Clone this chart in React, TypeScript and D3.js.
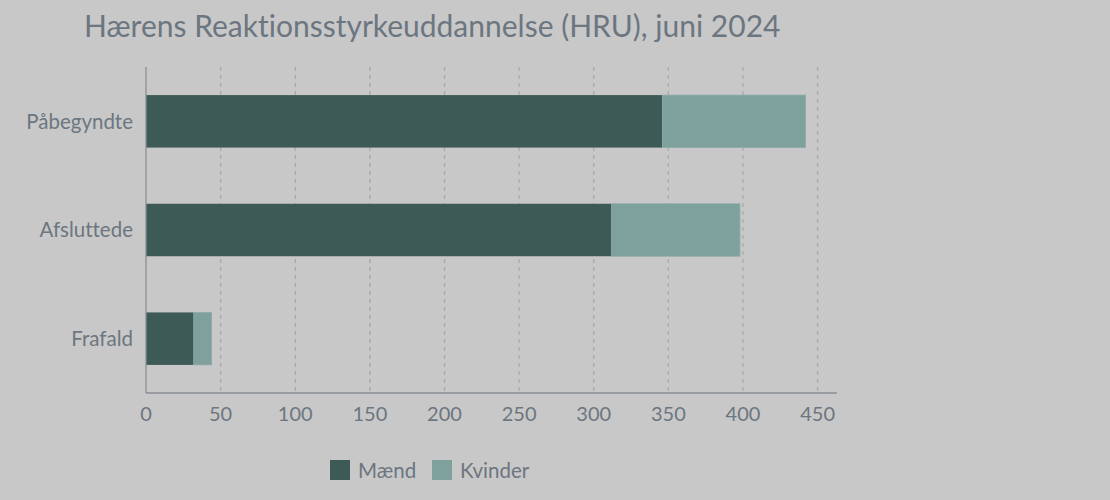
import { useEffect, useRef } from 'react'
import * as d3 from 'd3'

const categories = ['Påbegyndte', 'Afsluttede', 'Frafald']
const maend = [346, 312, 32]
const kvinder = [96, 86, 12]
const seriesNames = ['Mænd', 'Kvinder']
const seriesColors = ['#3d5a57', '#7fa19d']
const xTicks = [0, 50, 100, 150, 200, 250, 300, 350, 400, 450]

const width = 1110
const height = 500
const textColor = '#6c7680'

export default function App() {
  const svgRef = useRef<SVGSVGElement>(null)

  useEffect(() => {
    if (!svgRef.current) return
    const svg = d3.select(svgRef.current)
    svg.selectAll('*').remove()

    const plot = { left: 146, right: 837, top: 67, bottom: 393 }

    const x = d3.scaleLinear().domain([0, 463]).range([plot.left, plot.right])
    const y = d3
      .scaleBand<string>()
      .domain(categories)
      .range([plot.top, plot.bottom])
      .paddingInner(0.517)
      .paddingOuter(0.2585)

    svg.append('rect').attr('width', width).attr('height', height).attr('fill', '#c8c8c8')

    // title
    svg
      .append('text')
      .attr('x', 84)
      .attr('y', 37)
      .attr('font-size', 30)
      .attr('fill', textColor)
      .text('Hærens Reaktionsstyrkeuddannelse (HRU), juni 2024')

    // grid lines
    svg
      .append('g')
      .selectAll('line')
      .data(xTicks.filter((t) => t > 0))
      .join('line')
      .attr('x1', (d) => x(d))
      .attr('x2', (d) => x(d))
      .attr('y1', plot.top)
      .attr('y2', plot.bottom)
      .attr('stroke', '#a9a9a9')
      .attr('stroke-width', 1.3)
      .attr('stroke-dasharray', '4,4')

    // stacked bars
    const rows = categories.map((c, i) => ({ cat: c, values: [maend[i], kvinder[i]] }))
    rows.forEach((r) => {
      let acc = 0
      r.values.forEach((v, si) => {
        svg
          .append('rect')
          .attr('x', x(acc))
          .attr('y', y(r.cat) || 0)
          .attr('width', x(acc + v) - x(acc))
          .attr('height', y.bandwidth())
          .attr('fill', seriesColors[si])
          .attr('stroke', si === 1 ? '#8fabA8' : 'none')
          .attr('stroke-width', 0.7)
        acc += v
      })
    })

    // axes lines
    svg
      .append('line')
      .attr('x1', plot.left)
      .attr('x2', plot.left)
      .attr('y1', plot.top)
      .attr('y2', plot.bottom)
      .attr('stroke', '#8a8f94')
      .attr('stroke-width', 1.3)
    svg
      .append('line')
      .attr('x1', plot.left)
      .attr('x2', plot.right)
      .attr('y1', plot.bottom)
      .attr('y2', plot.bottom)
      .attr('stroke', '#8a8f94')
      .attr('stroke-width', 1.5)

    // x tick labels
    svg
      .append('g')
      .selectAll('text')
      .data(xTicks)
      .join('text')
      .attr('x', (d) => x(d))
      .attr('y', 421)
      .attr('text-anchor', 'middle')
      .attr('font-size', 20)
      .attr('fill', textColor)
      .text((d) => d)

    // category labels
    svg
      .append('g')
      .selectAll('text')
      .data(categories)
      .join('text')
      .attr('x', 133)
      .attr('y', (d) => (y(d) || 0) + y.bandwidth() / 2)
      .attr('dy', '0.35em')
      .attr('text-anchor', 'end')
      .attr('font-size', 20.5)
      .attr('fill', textColor)
      .text((d) => d)

    // legend
    const legendX = [330, 432]
    seriesNames.forEach((name, i) => {
      svg
        .append('rect')
        .attr('x', legendX[i])
        .attr('y', 460)
        .attr('width', 20)
        .attr('height', 20)
        .attr('fill', seriesColors[i])
      svg
        .append('text')
        .attr('x', legendX[i] + 28)
        .attr('y', 478)
        .attr('font-size', 20.5)
        .attr('fill', textColor)
        .text(name)
    })
  }, [])

  return (
    <svg
      ref={svgRef}
      width={width}
      height={height}
      style={{
        display: 'block',
        position: 'absolute',
        left: 0,
        top: 0,
        fontFamily: 'Lato, sans-serif',
        fontVariantLigatures: 'none',
      }}
    />
  )
}
